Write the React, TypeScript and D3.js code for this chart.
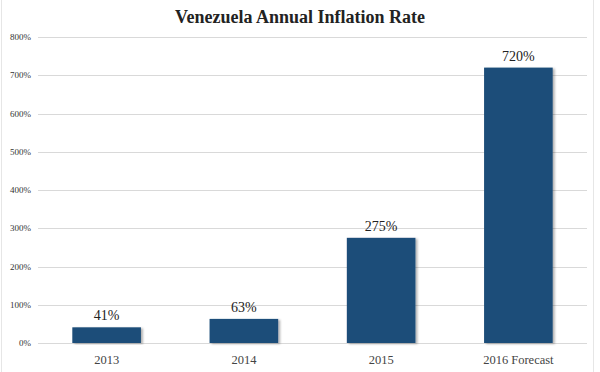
import React from "react";
import * as d3 from "d3";

const categories = ["2013", "2014", "2015", "2016 Forecast"];
const values = [41, 63, 275, 720];
const valueLabels = ["41%", "63%", "275%", "720%"];
const yTicks = [0, 100, 200, 300, 400, 500, 600, 700, 800];
const title = "Venezuela Annual Inflation Rate";

const W = 600;
const H = 372;
const margin = { left: 38, right: 13, top: 37, bottom: 29 };

export default function App() {
  const x = d3
    .scaleBand<string>()
    .domain(categories)
    .range([margin.left, W - margin.right])
    .paddingInner(0.5)
    .paddingOuter(0.25);
  const y = d3.scaleLinear().domain([0, 800]).range([H - margin.bottom, margin.top]);
  const font = "'Liberation Serif', 'Times New Roman', serif";
  const barColor = "#1f4e79";

  return (
    <svg
      width={W}
      height={H}
      style={{ position: "absolute", left: 0, top: 0, background: "#fff" }}
      fontFamily={font}
    >
      <defs>
        <filter id="shadow" x="-10%" y="-10%" width="130%" height="120%">
          <feDropShadow dx="2" dy="1" stdDeviation="1.2" floodColor="#000" floodOpacity="0.3" />
        </filter>
      </defs>
      <line x1={1.5} x2={1.5} y1={0} y2={H} stroke="#e6e6e6" />
      <line x1={593.5} x2={593.5} y1={0} y2={H} stroke="#e6e6e6" />
      <text x={W / 2} y={23} textAnchor="middle" fontSize={18} fontWeight="bold" fill="#222">
        {title}
      </text>
      {yTicks.map((t) => (
        <g key={t}>
          <line
            x1={margin.left}
            x2={W - margin.right}
            y1={Math.round(y(t)) + 0.5}
            y2={Math.round(y(t)) + 0.5}
            stroke="#d9d9d9"
          />
          <text x={31} y={y(t) + 3} textAnchor="end" fontSize={9} fill="#333">
            {t}%
          </text>
        </g>
      ))}
      {categories.map((c, i) => (
        <g key={c}>
          <rect
            x={x(c)}
            y={y(values[i])}
            width={x.bandwidth()}
            height={y(0) - y(values[i])}
            fill={barColor}
            filter="url(#shadow)"
          />
          <text
            x={(x(c) as number) + x.bandwidth() / 2}
            y={y(values[i]) - 7}
            textAnchor="middle"
            fontSize={14}
            fill="#222"
          >
            {valueLabels[i]}
          </text>
          <text
            x={(x(c) as number) + x.bandwidth() / 2}
            y={H - 8}
            textAnchor="middle"
            fontSize={12.5}
            fill="#444"
          >
            {c}
          </text>
        </g>
      ))}
    </svg>
  );
}
